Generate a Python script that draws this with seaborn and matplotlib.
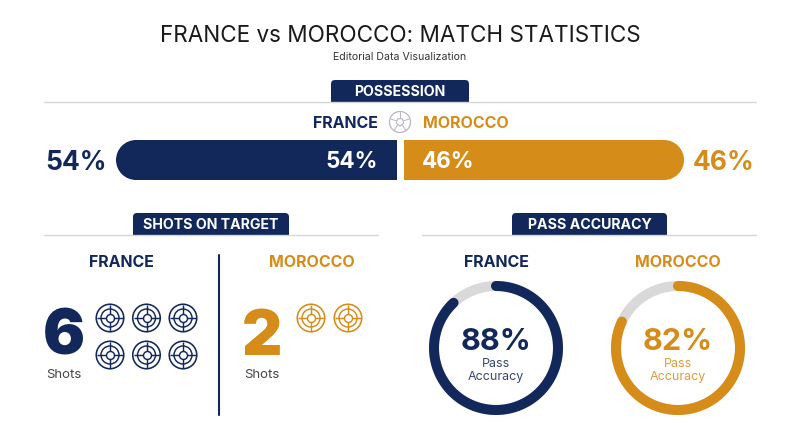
import numpy as np
import seaborn as sb
import matplotlib.pyplot as plt
from matplotlib.patches import FancyBboxPatch, Rectangle, Circle, RegularPolygon

teams = ['FRANCE', 'MOROCCO']
possession = [54, 46]
shots = [6, 2]
pass_accuracy = [88, 82]

NAVY = '#12275A'
ORANGE = '#D68C19'
RULE = '#D4D6DA'
GREY = '#D9D9D9'
FONT = 'Inter'
W, H = 800, 447

sb.set_theme(style='white')
plt.rcParams['font.family'] = [FONT, 'DejaVu Sans']
fig = plt.figure(figsize=(8, 4.47), dpi=100, facecolor='white')


def ax_px(x0, y0, x1, y1, **kw):
    # axes placed in picture pixels, y going down
    return fig.add_axes([x0/W, 1-y1/H, (x1-x0)/W, (y1-y0)/H], **kw)


px = ax_px(0, 0, W, H)
px.set_xlim(0, W)
px.set_ylim(H, 0)
px.axis('off')
px.patch.set_alpha(0)
px.set_zorder(5)


def label(x, y, s, col, size, weight='normal', ha='center', alpha=1):
    # y is the middle of the capitals
    px.text(x, y+0.5*0.727*size*100/72, s, color=col, fontsize=size, fontweight=weight,
            ha=ha, va='baseline', alpha=alpha, zorder=8)


def tab(x0, x1, y0, y1, s, size=10.2):
    p = FancyBboxPatch((x0+4, y0+4), x1-x0-8, y1-y0+6, boxstyle='round,pad=4,rounding_size=4',
                       fc=NAVY, ec='none')
    px.add_patch(p)
    p.set_clip_path(Rectangle((x0-1, y0-1), x1-x0+2, y1-y0+1, transform=px.transData))
    label((x0+x1)/2, (y0+y1)/2, s, 'white', size, 'bold')


def target(x, y, col):
    for d, lw in ((27.5, 1.15), (18, 1.05)):
        sb.scatterplot(x=[x], y=[y], s=(d*.72)**2, marker='o', facecolor='none', edgecolor=col,
                       linewidth=lw, ax=px, legend=False, zorder=6)
    sb.scatterplot(x=[x], y=[y], s=(27*.72)**2, marker='+', color=col, linewidth=1.05, ax=px,
                   legend=False, zorder=6)
    sb.scatterplot(x=[x], y=[y], s=(8*.72)**2, marker='o', facecolor='white', edgecolor=col,
                   linewidth=1.05, ax=px, legend=False, zorder=7)


# header
label(400, 34, 'FRANCE vs MOROCCO: MATCH STATISTICS', '#1A1A1A', 16.2)
label(400, 56, 'Editorial Data Visualization', '#333333', 7.6)

# rules and tabs
px.plot([44, 756], [102, 102], color=RULE, lw=1)
px.plot([44, 378], [235, 235], color=RULE, lw=1)
px.plot([422, 756], [235, 235], color=RULE, lw=1)
tab(331, 469, 80, 102, 'POSSESSION')
tab(133, 289, 213, 235, 'SHOTS ON TARGET')
tab(512, 667, 213, 235, 'PASS ACCURACY')

# possession bars, each half has its own scale, round ends added after
for i, (x0, x1, cap) in enumerate(((136, 397, 136), (404, 664, 664))):
    col = [NAVY, ORANGE][i]
    a = ax_px(x0, 140, x1, 180)
    sb.barplot(x=[possession[i]], y=[teams[i]], color=col, saturation=1, width=1, ax=a)
    a.set_ylim(0.5, -0.5)
    a.set_xlim(*((possession[i], 0) if i == 0 else (0, possession[i])))
    a.axis('off')
    for b in a.patches:
        b.set_snap(False)
        b.set_edgecolor('none')
        b.set_linewidth(0)
    px.add_patch(Circle((cap, 160), 20, fc=col, ec='none'))

label(378, 160, f'{possession[0]}%', 'white', 16.2, 'bold', ha='right')
label(422, 160, f'{possession[1]}%', 'white', 16.2, 'bold', ha='left')
label(45, 160, f'{possession[0]}%', NAVY, 19, 'bold', ha='left')
label(755, 160, f'{possession[1]}%', ORANGE, 19, 'bold', ha='right')
label(378, 122, teams[0], NAVY, 11.5, 'bold', ha='right')
label(423, 122, teams[1], ORANGE, 11.5, 'bold', ha='left')

# ball icon
px.add_patch(Circle((400, 122), 10.5, fc='white', ec='#B5B7BC', lw=0.9))
px.add_patch(RegularPolygon((400, 122), 5, radius=4, orientation=0, fc='none', ec='#B5B7BC', lw=0.8))
for t in np.arange(5)*2*np.pi/5:
    px.plot([400+4*np.sin(t), 400+10*np.sin(t)], [122-4*np.cos(t), 122-10*np.cos(t)], color='#B5B7BC', lw=0.7)

# shots on target
px.plot([219, 219], [255, 415], color=NAVY, lw=1.5)
label(121, 261, teams[0], NAVY, 11.5, 'bold')
label(312, 261, teams[1], ORANGE, 11.5, 'bold')
label(64, 331.5, str(shots[0]), NAVY, 45, 'black')
label(262, 332, str(shots[1]), ORANGE, 45, 'black')
label(63.5, 373, 'Shots', '#444444', 9.5)
label(262, 373, 'Shots', '#444444', 9.5)
for n in range(shots[0]):
    target(110+36.5*(n % 3), 318+37*(n//3), NAVY)
for n in range(shots[1]):
    target(311+37*n, 318, ORANGE)

# pass accuracy rings
for i, cx in enumerate((496, 678)):
    col = [NAVY, ORANGE][i]
    label(cx, 261, teams[i], col, 11.5, 'bold')
    a = ax_px(cx-70, 348-70, cx+70, 348+70, projection='polar')
    a.set_theta_zero_location('N')
    a.set_theta_direction(-1)
    theta = np.linspace(0, 2*np.pi, 200)
    a.plot(theta, np.full(200, 62/70), color=GREY, lw=7.2)
    theta = np.linspace(0, 2*np.pi*pass_accuracy[i]/100, 200)
    sb.lineplot(x=theta, y=np.full(200, 62/70), color=col, lw=7.2, solid_capstyle='round',
                estimator=None, sort=False, ax=a)
    a.set_ylim(0, 1)
    a.axis('off')
    label(cx, 339, f'{pass_accuracy[i]}%', col, 22, 'bold')
    label(cx, 362, 'Pass', col, 9, alpha=.85)
    label(cx, 375, 'Accuracy', col, 9, alpha=.85)

fig.savefig('out.png', dpi=100)
